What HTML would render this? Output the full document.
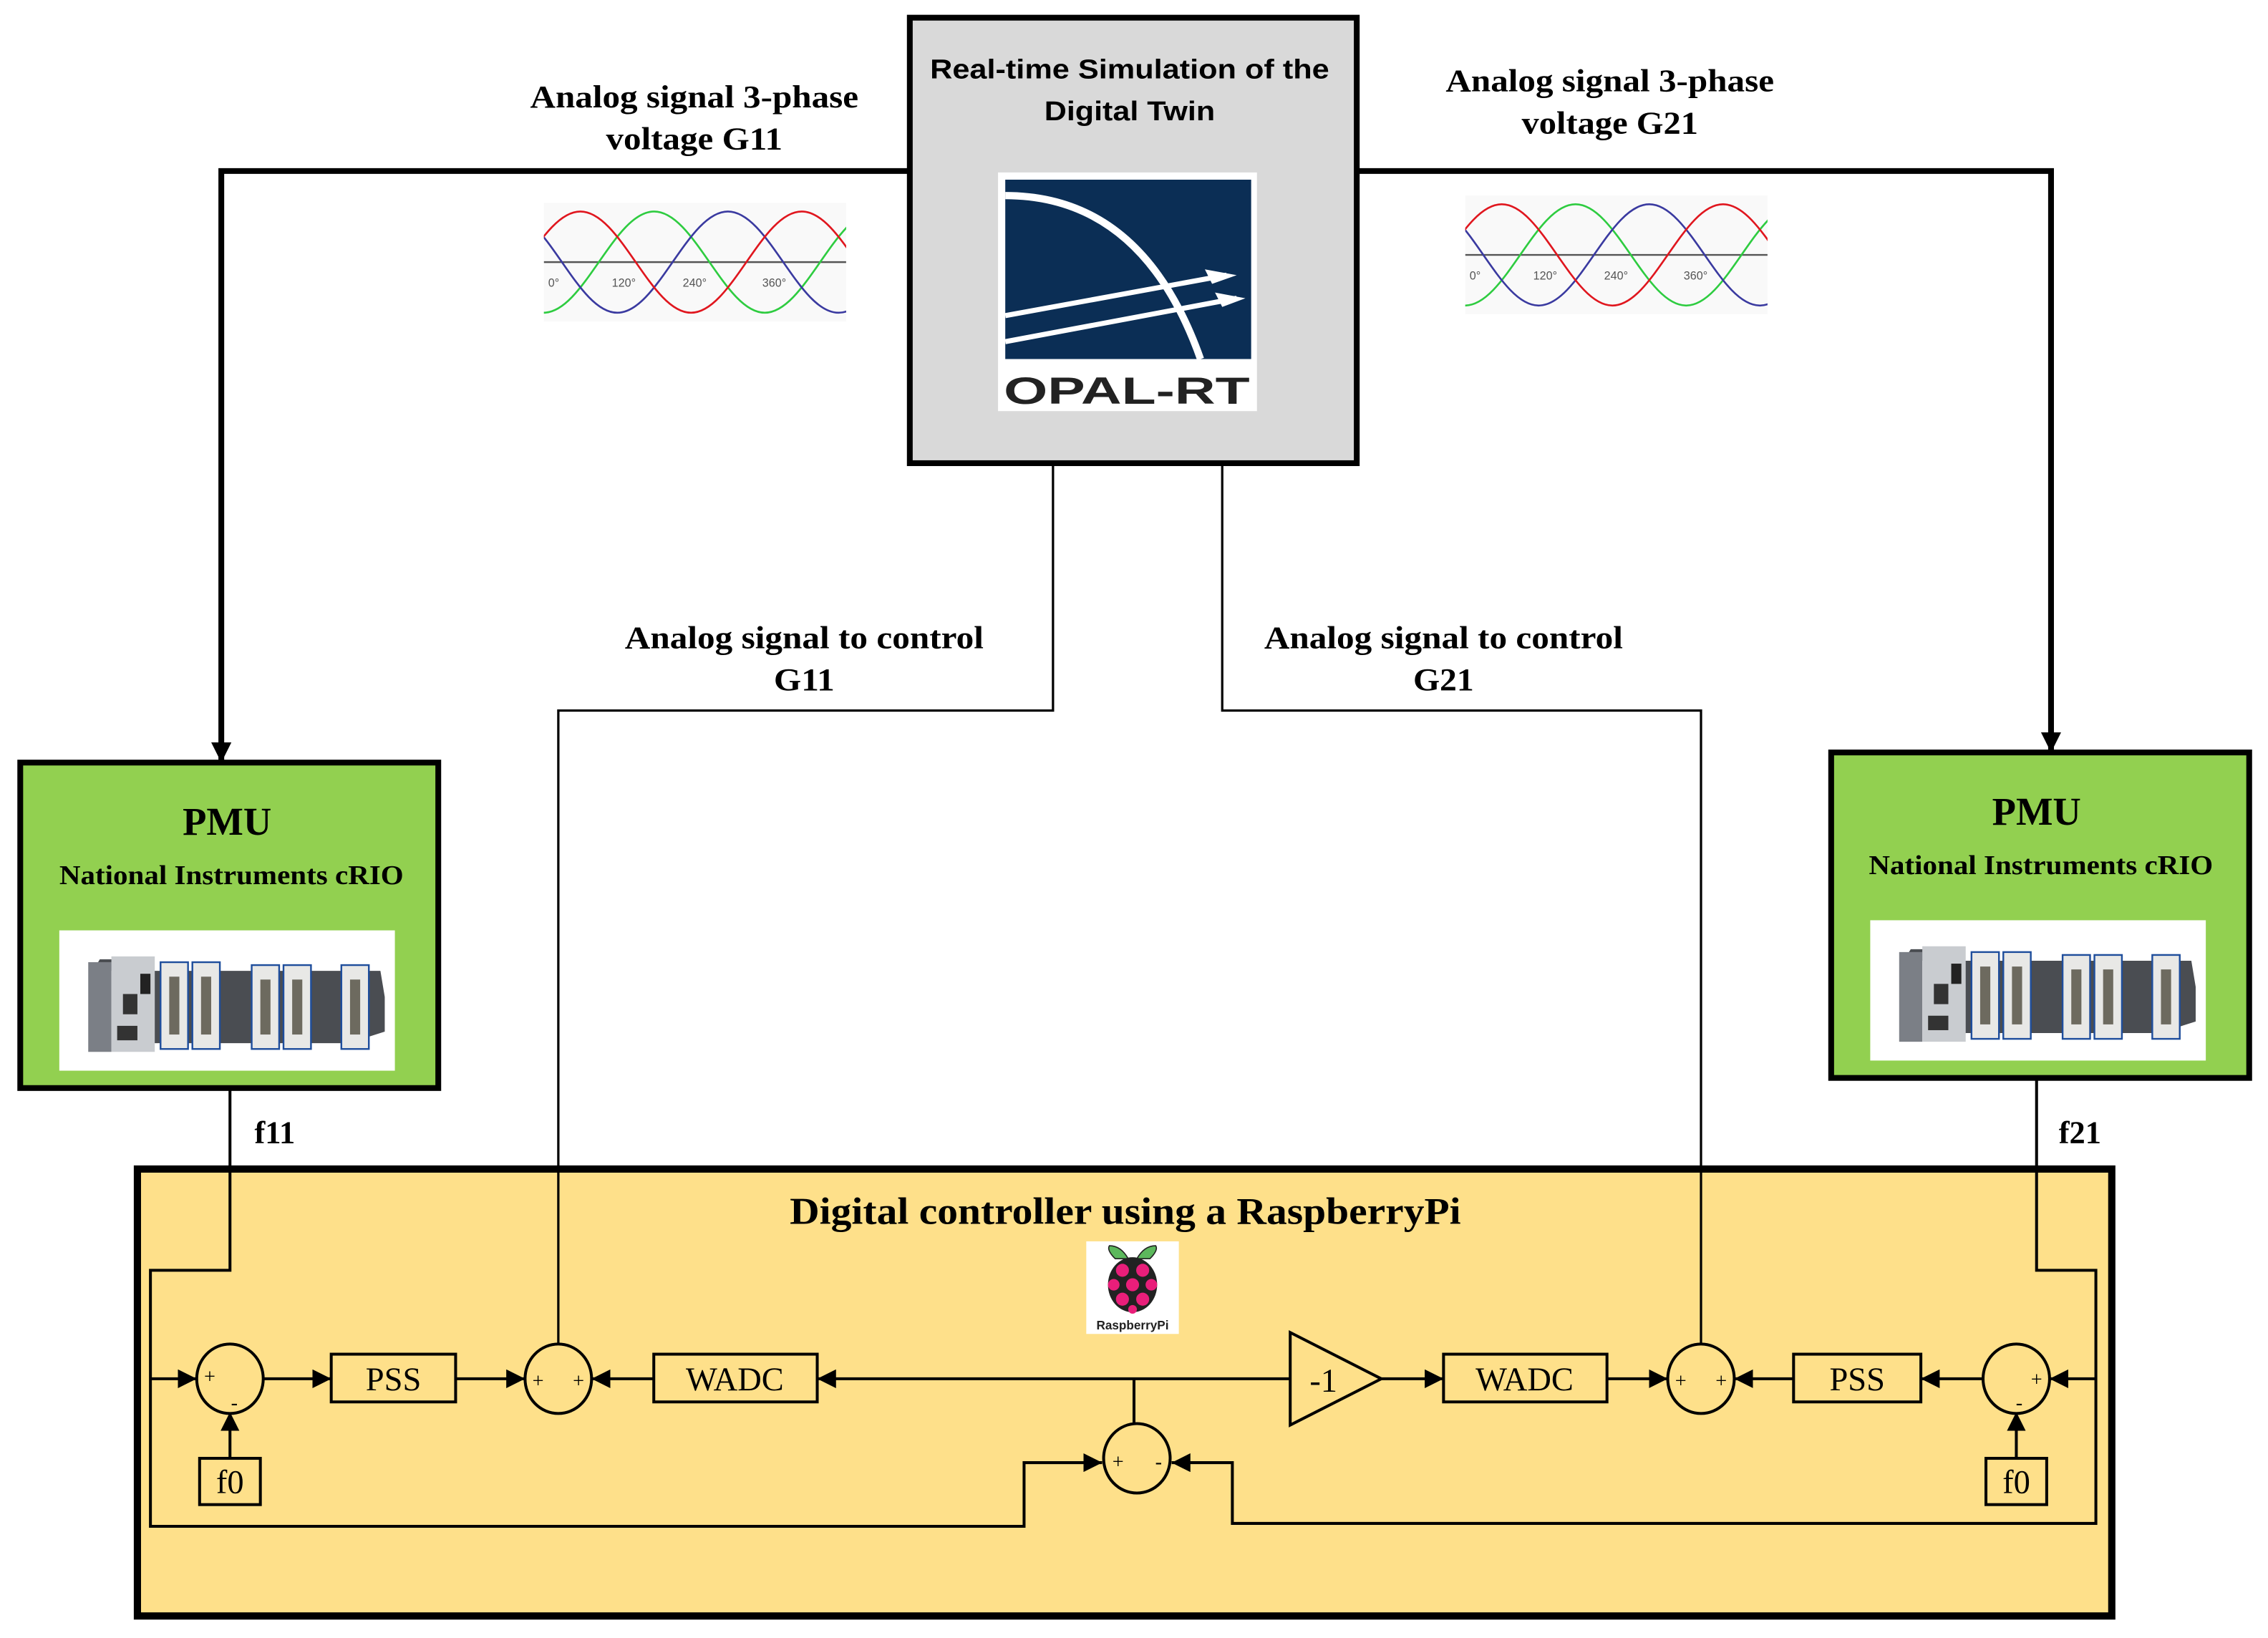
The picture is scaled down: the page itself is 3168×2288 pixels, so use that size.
<!DOCTYPE html>
<html><head><meta charset="utf-8"><style>
html,body{margin:0;padding:0;background:#fff;}
svg{display:block;}
.s{font-family:"Liberation Serif",serif;font-weight:bold;}
.r{font-family:"Liberation Serif",serif;}
.a{font-family:"Liberation Sans",sans-serif;font-weight:bold;}
</style></head><body>
<svg width="3168" height="2288" viewBox="0 0 1568 1132" xmlns="http://www.w3.org/2000/svg">
<defs>
<marker id="ar" viewBox="0 0 10 10" refX="10" refY="5" markerWidth="13" markerHeight="13" markerUnits="userSpaceOnUse" orient="auto"><path d="M0,0 L10,5 L0,10z" fill="#000"/></marker>
<marker id="ab" viewBox="0 0 10 10" refX="10" refY="5" markerWidth="14" markerHeight="14" markerUnits="userSpaceOnUse" orient="auto"><path d="M0,0 L10,5 L0,10z" fill="#000"/></marker>
<path id="sw" d="M0 0 c12.47 -17.93 24.41 -35 38.25 -35 c13.84 0 25.78 17.07 38.25 35 c12.47 17.93 24.41 35 38.25 35 c13.84 0 25.78 -17.07 38.25 -35 c12.47 -17.93 24.41 -35 38.25 -35 c13.84 0 25.78 17.07 38.25 35 c12.47 17.93 24.41 35 38.25 35 c13.84 0 25.78 -17.07 38.25 -35 c12.47 -17.93 24.41 -35 38.25 -35 c13.84 0 25.78 17.07 38.25 35 c12.47 17.93 24.41 35 38.25 35 c13.84 0 25.78 -17.07 38.25 -35 c12.47 -17.93 24.41 -35 38.25 -35 c13.84 0 25.78 17.07 38.25 35 c12.47 17.93 24.41 35 38.25 35 c13.84 0 25.78 -17.07 38.25 -35" fill="none" stroke-width="1.3"/>
<clipPath id="sc"><rect x="0" y="0" width="209" height="82"/></clipPath>
<g id="sine">
<rect x="0" y="0" width="209" height="82" fill="#f9f9f9"/>
<g clip-path="url(#sc)">
<line x1="0" y1="41" x2="209" y2="41" stroke="#555" stroke-width="1.2"/>
<use href="#sw" x="-268" y="41" stroke="#2ecc40"/>
<use href="#sw" x="-217" y="41" stroke="#3a3aa0"/>
<use href="#sw" x="-166" y="41" stroke="#e0161e"/>
</g>
<g font-family="Liberation Sans,sans-serif" font-size="8" fill="#555">
<text x="3" y="58">0°</text><text x="47" y="58">120°</text><text x="96" y="58">240°</text><text x="151" y="58">360°</text></g>
</g>
<g id="crio">
<rect x="0" y="0" width="232" height="97" fill="#fff"/>
<path d="M22 30 L28 20 L62 20 L62 78 L200 78 L225 70 L225 46 L222 28 L28 28z" fill="#4a4d52"/>
<rect x="20" y="22" width="16" height="62" fill="#7b7f86"/>
<rect x="36" y="18" width="30" height="66" fill="#c9ccd0"/>
<rect x="44" y="44" width="10" height="14" fill="#333"/>
<rect x="40" y="66" width="14" height="10" fill="#333"/>
<rect x="56" y="30" width="7" height="14" fill="#222"/>
<g fill="#e8e8e6" stroke="#1f4e9c" stroke-width="1.2">
<rect x="70" y="22" width="19" height="60"/><rect x="92" y="22" width="19" height="60"/>
<rect x="133" y="24" width="19" height="58"/><rect x="155" y="24" width="19" height="58"/>
<rect x="195" y="24" width="19" height="58"/></g>
<g fill="#6d6a5f">
<rect x="76" y="32" width="7" height="40"/><rect x="98" y="32" width="7" height="40"/>
<rect x="139" y="34" width="7" height="38"/><rect x="161" y="34" width="7" height="38"/>
<rect x="201" y="34" width="7" height="38"/></g>
</g>
</defs>

<polyline points="629,118 153,118 153,527" fill="none" stroke="#000" stroke-width="4" marker-end="url(#ab)"/>
<polyline points="938,118 1418,118 1418,520" fill="none" stroke="#000" stroke-width="4" marker-end="url(#ab)"/>

<rect x="629" y="12" width="309" height="308" fill="#d9d9d9" stroke="#000" stroke-width="4"/>
<text class="a" x="781" y="54" font-size="19" text-anchor="middle" textLength="276" lengthAdjust="spacingAndGlyphs">Real-time Simulation of the</text>
<text class="a" x="781" y="83" font-size="19" text-anchor="middle" textLength="118" lengthAdjust="spacingAndGlyphs">Digital Twin</text>
<rect x="690" y="119" width="179" height="165" fill="#fff"/>
<rect x="695" y="124" width="170" height="124" fill="#0b2e55"/>
<path d="M695 135 Q790 135 830 248" fill="none" stroke="#fff" stroke-width="5"/>
<path d="M695 218 L848 190 M695 236 L855 206" stroke="#fff" stroke-width="3.5"/>
<path d="M833 186 L855 190 L838 196z M840 202 L861 206 L845 212z" fill="#fff"/>
<text x="779" y="279" font-family="Liberation Sans,sans-serif" font-weight="bold" font-size="26" fill="#222" text-anchor="middle" textLength="170" lengthAdjust="spacingAndGlyphs">OPAL-RT</text>

<g class="s" font-size="22" text-anchor="middle" lengthAdjust="spacingAndGlyphs">
<text x="480" y="74" textLength="227" lengthAdjust="spacingAndGlyphs">Analog signal 3-phase</text><text x="480" y="103" textLength="122" lengthAdjust="spacingAndGlyphs">voltage G11</text>
<text x="1113" y="63" textLength="227" lengthAdjust="spacingAndGlyphs">Analog signal 3-phase</text><text x="1113" y="92" textLength="122" lengthAdjust="spacingAndGlyphs">voltage G21</text>
<text x="556" y="448" textLength="248" lengthAdjust="spacingAndGlyphs">Analog signal to control</text><text x="556" y="477" textLength="42" lengthAdjust="spacingAndGlyphs">G11</text>
<text x="998" y="448" textLength="248" lengthAdjust="spacingAndGlyphs">Analog signal to control</text><text x="998" y="477" textLength="42" lengthAdjust="spacingAndGlyphs">G21</text>
<text x="190" y="790">f11</text><text x="1438" y="790">f21</text>
</g>
<use href="#sine" x="376" y="140"/>
<use href="#sine" x="1013" y="135"/>

<rect x="14" y="527" width="289" height="225" fill="#92d050" stroke="#000" stroke-width="4"/>
<text class="s" x="157" y="577" font-size="27" text-anchor="middle">PMU</text>
<text class="s" x="160" y="611" font-size="19" text-anchor="middle" textLength="238" lengthAdjust="spacingAndGlyphs">National Instruments cRIO</text>
<use href="#crio" x="41" y="643"/>
<rect x="1266" y="520" width="289" height="225" fill="#92d050" stroke="#000" stroke-width="4"/>
<text class="s" x="1408" y="570" font-size="27" text-anchor="middle">PMU</text>
<text class="s" x="1411" y="604" font-size="19" text-anchor="middle" textLength="238" lengthAdjust="spacingAndGlyphs">National Instruments cRIO</text>
<use href="#crio" x="1293" y="636"/>

<polyline points="728,320 728,491 386,491 386,931" fill="none" stroke="#000" stroke-width="1.6"/>
<polyline points="845,320 845,491 1176,491 1176,931" fill="none" stroke="#000" stroke-width="1.6"/>

<rect x="95" y="808" width="1365" height="309" fill="#fee08a" stroke="#000" stroke-width="5"/>
<polyline points="386,808 386,931" stroke="#000" stroke-width="1.6"/>
<polyline points="1176,808 1176,931" stroke="#000" stroke-width="1.6"/>
<text class="s" x="778" y="846" font-size="26" text-anchor="middle" textLength="464" lengthAdjust="spacingAndGlyphs">Digital controller using a RaspberryPi</text>

<rect x="751" y="858" width="64" height="64" fill="#fff"/>
<path d="M771 870 q-6 -6 -4 -9 q8 0 13 9z M795 870 q6 -6 4 -9 q-8 0 -13 9z" fill="#5cb85c" stroke="#222" stroke-width="0.8"/>
<ellipse cx="783" cy="888" rx="17" ry="19" fill="#222"/>
<g fill="#e91e7a"><circle cx="776" cy="878" r="4.5"/><circle cx="790" cy="878" r="4.5"/><circle cx="770" cy="888" r="4"/><circle cx="783" cy="888" r="4.5"/><circle cx="796" cy="888" r="4"/><circle cx="776" cy="898" r="4.5"/><circle cx="790" cy="898" r="4.5"/><circle cx="783" cy="905" r="3"/></g>
<text x="783" y="919" font-family="Liberation Sans,sans-serif" font-weight="bold" font-size="8.5" text-anchor="middle" fill="#222">RaspberryPi</text>

<g stroke="#000" stroke-width="2" fill="none">
<polyline points="159,752 159,878 104,878 104,1055 708,1055 708,1011 762,1011" marker-end="url(#ar)"/>
<line x1="104" y1="953" x2="136" y2="953" marker-end="url(#ar)"/>
<line x1="159" y1="1008" x2="159" y2="976" marker-end="url(#ar)"/>
<line x1="182" y1="953" x2="229" y2="953" marker-end="url(#ar)"/>
<line x1="315" y1="953" x2="363" y2="953" marker-end="url(#ar)"/>
<line x1="452" y1="953" x2="409" y2="953" marker-end="url(#ar)"/>
<line x1="892" y1="953" x2="565" y2="953" marker-end="url(#ar)"/>
<line x1="784" y1="953" x2="784" y2="985"/>
<line x1="955" y1="953" x2="998" y2="953" marker-end="url(#ar)"/>
<line x1="1111" y1="953" x2="1153" y2="953" marker-end="url(#ar)"/>
<line x1="1240" y1="953" x2="1199" y2="953" marker-end="url(#ar)"/>
<line x1="1371" y1="953" x2="1328" y2="953" marker-end="url(#ar)"/>
<line x1="1449" y1="953" x2="1417" y2="953" marker-end="url(#ar)"/>
<line x1="1394" y1="1008" x2="1394" y2="976" marker-end="url(#ar)"/>
<polyline points="1408,745 1408,878 1449,878 1449,1053 852,1053 852,1011 810,1011" marker-end="url(#ar)"/>
<g fill="#fee08a">
<ellipse cx="159" cy="953" rx="23" ry="24"/>
<ellipse cx="386" cy="953" rx="23" ry="24"/>
<ellipse cx="786" cy="1008" rx="23" ry="24"/>
<ellipse cx="1176" cy="953" rx="23" ry="24"/>
<ellipse cx="1394" cy="953" rx="23" ry="24"/>
<rect x="229" y="936" width="86" height="33"/>
<rect x="452" y="936" width="113" height="33"/>
<rect x="998" y="936" width="113" height="33"/>
<rect x="1240" y="936" width="88" height="33"/>
<rect x="138" y="1008" width="42" height="32"/>
<rect x="1373" y="1008" width="42" height="32"/>
<polygon points="892,921 892,985 955,953"/>
</g>
</g>
<g class="r" font-size="23" text-anchor="middle">
<text x="272" y="961">PSS</text><text x="508" y="961">WADC</text>
<text x="1054" y="961">WADC</text><text x="1284" y="961">PSS</text>
<text x="159" y="1032">f0</text><text x="1394" y="1032">f0</text>
<text x="915" y="962">-1</text>
</g>
<g class="r" font-size="14" text-anchor="middle">
<text x="145" y="956">+</text><text x="162" y="974">-</text>
<text x="372" y="959">+</text><text x="400" y="959">+</text>
<text x="773" y="1015">+</text><text x="801" y="1015">-</text>
<text x="1162" y="959">+</text><text x="1190" y="959">+</text>
<text x="1408" y="958">+</text><text x="1396" y="974">-</text>
</g>
</svg>
</body></html>
